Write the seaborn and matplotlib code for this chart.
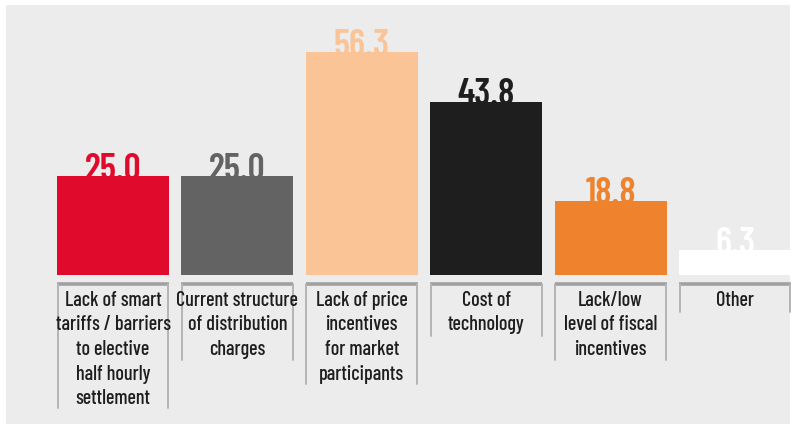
import matplotlib
matplotlib.use('Agg')
import matplotlib.pyplot as plt
import matplotlib.patches as mpatches
import seaborn as sns
import pandas as pd

# Chart data
categories = [
    'Lack of smart\ntariffs / barriers\nto elective\nhalf hourly\nsettlement',
    'Current structure\nof distribution\ncharges',
    'Lack of price\nincentives\nfor market\nparticipants',
    'Cost of\ntechnology',
    'Lack/low\nlevel of fiscal\nincentives',
    'Other',
]
values = [25.0, 25.0, 56.3, 43.8, 18.8, 6.3]
colors = ['#E00A2D', '#636363', '#FBC497', '#1E1E1E', '#EF832D', '#FFFFFF']

df = pd.DataFrame({'category': categories, 'value': values})

sns.set_theme(style='white')
plt.rcParams['font.family'] = ['Barlow Condensed', 'Liberation Sans', 'DejaVu Sans']

W, H = 795, 424
fig = plt.figure(figsize=(W / 100, H / 100), dpi=100, facecolor='white')

# light gray panel behind everything
fig.patches.append(mpatches.Rectangle((6 / W, 0), 784 / W, (H - 5) / H,
                                      transform=fig.transFigure, facecolor='#ECECEC',
                                      edgecolor='none', zorder=-10))

base_px = 275
top_val = 60
px_per_unit = 3.96
ax_left = (113 - 62.2) / W
ax_width = 6 * 124.4 / W
ax_bottom = (H - base_px) / H
ax_height = top_val * px_per_unit / H
ax = fig.add_axes([ax_left, ax_bottom, ax_width, ax_height])
ax.patch.set_alpha(0)

sns.barplot(data=df, x='category', y='value', hue='category', palette=colors,
            width=0.9, legend=False, ax=ax, zorder=3, saturation=1, linewidth=0)
ax.set_xlim(-0.5, 5.5)
ax.set_ylim(0, top_val)
ax.axis('off')

upp = top_val / (ax_height * H)  # data units per pixel

for p, v, c, lab in zip(ax.patches, values, colors, categories):
    x0 = p.get_x()
    x1 = x0 + p.get_width()
    xc = x0 + p.get_width() / 2
    # value label, partly hidden behind the bar top
    ax.text(xc, v - 3.5 * upp, f'{v:.1f}', ha='center', va='baseline',
            fontsize=27, fontweight=600, color=c, zorder=2, clip_on=False)
    # bracket under the bar
    nlines = lab.count('\n') + 1
    y_top = -8.5 * upp
    y_bot = -(288 + 24 * nlines - base_px) * upp
    ax.plot([x0, x1], [y_top, y_top], color='#A0A0A0', lw=2.6,
            solid_capstyle='butt', clip_on=False, zorder=2)
    for xx in (x0 + 0.005, x1 - 0.005):
        ax.plot([xx, xx], [y_top, y_bot], color='#B4B4B4', lw=1.4,
                clip_on=False, zorder=2)
    ax.text(xc, -15.5 * upp, lab, ha='center', va='top', fontsize=14.5,
            fontweight='medium', color='#1E1E1E', linespacing=1.38,
            clip_on=False, zorder=2)

fig.savefig('out.png', dpi=100, facecolor='white')
